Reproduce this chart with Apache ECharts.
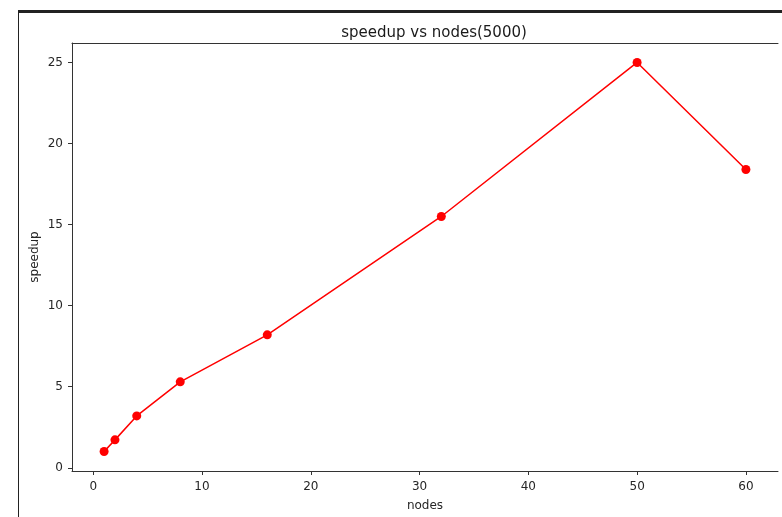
<!DOCTYPE html>
<html>
<head>
<meta charset="utf-8">
<script src="https://cdn.jsdelivr.net/npm/echarts@6/dist/echarts.min.js"></script>
<style>
    html, body { margin: 0; padding: 0; background: #fff; }
    #chart { width: 782px; height: 517px; }
</style>
</head>
<body>
<div id="chart"></div>
<script>
// nodes vs speedup (5000)
var nodes = [1, 2, 4, 8, 16, 32, 50, 60];
var speedup = [1.0, 1.72, 3.2, 5.3, 8.2, 15.5, 25.0, 18.4];
var x_ticks = [0, 10, 20, 30, 40, 50, 60];
var y_ticks = [0, 5, 10, 15, 20, 25];

var CHART = {
    init: function(){
        var _this = this;
        var myChart = echarts.init(document.getElementById("chart"));
        myChart.setOption(_this.init_option());
    },
    init_option: function(){
        var font = "DejaVu Sans";
        var points = [];
        for (var i = 0; i < nodes.length; i++) points.push([nodes[i], speedup[i]]);

        var option = {
            animation: false,
            textStyle: { fontFamily: font },
            title: {
                text: "speedup vs nodes(5000)",
                left: 429,
                top: 21,
                textAlign: "center",
                textStyle: { fontFamily: font, fontSize: 15, fontWeight: "normal", color: "#1a1a1a" }
            },
            graphic: [
                // screenshot frame
                { type: "rect", shape: { x: 18, y: 10, width: 764, height: 3 }, style: { fill: "#222" } },
                { type: "rect", shape: { x: 18, y: 10, width: 1, height: 507 }, style: { fill: "#222" } }
            ],
            grid: { left: 72, top: 43, right: 4, bottom: 46 },
            xAxis: [
                {
                    type: "value",
                    min: -1.95,
                    max: 62.95,
                    name: "nodes",
                    nameLocation: "middle",
                    nameGap: 29,
                    nameTextStyle: { fontSize: 12, color: "#262626" },
                    splitLine: { show: false },
                    axisLine: { show: true, onZero: false, lineStyle: { color: "#333", width: 1 } },
                    axisTick: { show: true, length: 4, customValues: x_ticks, lineStyle: { color: "#333" } },
                    axisLabel: { customValues: x_ticks, fontSize: 12, color: "#262626", margin: 10 }
                },
                {
                    type: "value",
                    position: "top",
                    min: -1.95,
                    max: 62.95,
                    splitLine: { show: false },
                    axisLine: { show: true, onZero: false, lineStyle: { color: "#333", width: 1 } },
                    axisTick: { show: false },
                    axisLabel: { show: false }
                }
            ],
            yAxis: {
                type: "value",
                min: -0.2,
                max: 26.2,
                name: "speedup",
                nameLocation: "middle",
                nameGap: 31,
                nameRotate: 90,
                nameMoveOverlap: false,
                nameTextStyle: { fontSize: 12, color: "#262626" },
                splitLine: { show: false },
                axisLine: { show: true, onZero: false, lineStyle: { color: "#333", width: 1 } },
                axisTick: { show: true, length: 4, customValues: y_ticks, lineStyle: { color: "#333" } },
                axisLabel: { customValues: y_ticks, fontSize: 12, color: "#262626", margin: 9 }
            },
            series: [
                {
                    type: "line",
                    data: points,
                    symbol: "circle",
                    symbolSize: 9,
                    lineStyle: { color: "#ff0000", width: 1.5 },
                    itemStyle: { color: "#ff0000" }
                }
            ]
        };
        return option;
    }
};

CHART.init();
</script>
</body>
</html>
